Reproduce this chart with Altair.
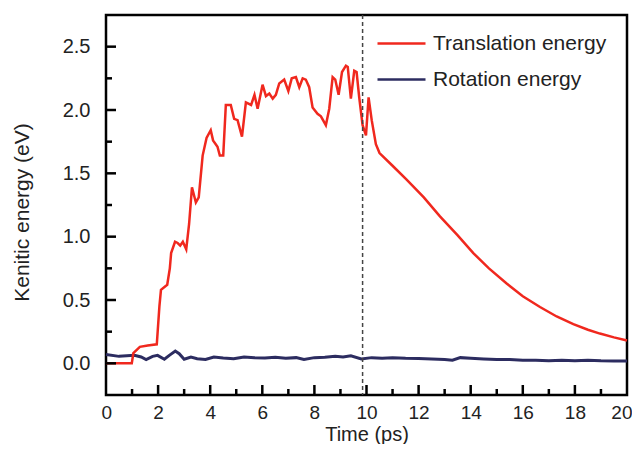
import altair as alt
import pandas as pd

# ---- data ----
trans_t = [0.0, 0.99, 1.05, 1.3, 1.6, 1.95, 2.05, 2.11, 2.35, 2.45, 2.5, 2.65, 2.75, 2.85, 2.95, 3.08,
           3.19, 3.3, 3.45, 3.56, 3.71, 3.86, 4.02, 4.11, 4.28, 4.37, 4.5, 4.6, 4.79, 4.92, 5.05,
           5.22, 5.37, 5.57, 5.7, 5.82, 6.01, 6.14, 6.27, 6.4, 6.52, 6.65, 6.84, 7.0, 7.13, 7.29,
           7.42, 7.55, 7.67, 7.8, 7.93, 8.12, 8.25, 8.44, 8.57, 8.7, 8.8, 8.93, 9.06, 9.21, 9.28,
           9.4, 9.53, 9.62, 9.72, 9.85, 9.98, 10.08, 10.2, 10.36, 10.5, 11.0, 11.54, 12.2, 12.82,
           13.5, 14.1, 14.7, 15.38, 16.0, 16.66, 17.3, 17.94, 18.5, 18.96, 19.5, 20.0]
trans_v = [0.0, 0.0, 0.08, 0.13, 0.14, 0.15, 0.45, 0.58, 0.62, 0.75, 0.87, 0.96, 0.95, 0.93, 0.96, 0.90,
           1.10, 1.39, 1.27, 1.31, 1.64, 1.78, 1.84, 1.76, 1.71, 1.64, 1.64, 2.04, 2.04, 1.93, 1.92,
           1.79, 2.06, 2.04, 2.12, 2.01, 2.20, 2.11, 2.13, 2.09, 2.12, 2.21, 2.24, 2.15, 2.25, 2.26,
           2.18, 2.25, 2.24, 2.18, 2.02, 1.97, 1.95, 1.88, 2.01, 2.26, 2.24, 2.12, 2.30, 2.35, 2.34,
           2.09, 2.31, 2.30, 2.10, 1.88, 1.80, 2.10, 1.92, 1.73, 1.66, 1.56, 1.45, 1.31, 1.16,
           1.01, 0.87, 0.75, 0.63, 0.53, 0.445, 0.37, 0.31, 0.265, 0.235, 0.205, 0.18]

rot_t = [0.0, 0.5, 1.09, 1.35, 1.54, 1.79, 1.98, 2.24, 2.43, 2.66, 2.81, 3.0, 3.26, 3.5, 3.82, 4.14,
         4.5, 4.9, 5.3, 5.7, 6.1, 6.5, 6.9, 7.3, 7.6, 8.0, 8.4, 8.8, 9.1, 9.4, 9.8, 10.2, 10.6,
         11.0, 11.5, 12.0, 12.5, 13.0, 13.3, 13.6, 14.0, 14.5, 15.0, 15.5, 16.0, 16.5, 17.0,
         17.5, 18.0, 18.5, 19.0, 19.5, 20.0]
rot_v = [0.07, 0.055, 0.063, 0.05, 0.03, 0.055, 0.063, 0.032, 0.063, 0.097, 0.076, 0.032, 0.05, 0.037,
         0.03, 0.05, 0.042, 0.037, 0.05, 0.045, 0.042, 0.048, 0.04, 0.045, 0.03, 0.045, 0.048, 0.055,
         0.05, 0.06, 0.035, 0.045, 0.04, 0.045, 0.04, 0.038, 0.035, 0.03, 0.025, 0.045, 0.04, 0.035,
         0.03, 0.03, 0.025, 0.025, 0.02, 0.025, 0.02, 0.025, 0.02, 0.018, 0.018]

series = ["Translation energy", "Rotation energy"]
colors = ["#f0281e", "#2c2c60"]
dash_t = [9.85]
x_major = [0, 2, 4, 6, 8, 10, 12, 14, 16, 18, 20]
x_minor = [1, 3, 5, 7, 9, 11, 13, 15, 17, 19]
y_major = [0.0, 0.5, 1.0, 1.5, 2.0, 2.5]
y_minor = [0.25, 0.75, 1.25, 1.75, 2.25]

df = pd.concat([
    pd.DataFrame({"t": trans_t, "v": trans_v, "s": series[0]}),
    pd.DataFrame({"t": rot_t, "v": rot_v, "s": series[1]}),
])

W, H = 521, 380
xs = alt.Scale(domain=[0, 20], nice=False)
ys = alt.Scale(domain=[-0.25, 2.75], nice=False)
FONT = "Liberation Sans"

x_enc = alt.X("t:Q", scale=xs, axis=alt.Axis(
    values=x_major, title="Time (ps)", labelFontSize=19, labelPadding=8, ticks=False,
    labelFlush=True, labelFlushOffset=5,
    domain=False, grid=False, titleFontSize=20, titleFontWeight="normal",
    titleBaseline="alphabetic", titleY=45, labelColor="#222", titleColor="#222"))
y_enc = alt.Y("v:Q", scale=ys, axis=alt.Axis(
    values=y_major, format=".1f", title="Kenitic energy (eV)", labelFontSize=20,
    labelPadding=16, ticks=False, domain=False, grid=False, titleFontSize=21,
    titleFontWeight="normal", titleAngle=270, titleBaseline="middle", titleX=-84,
    titleY=197, labelColor="#222", titleColor="#222"))
c_enc = alt.Color("s:N", scale=alt.Scale(domain=series, range=colors), legend=alt.Legend(
    title=None, orient="none", legendX=270, legendY=3, symbolType="stroke",
    symbolSize=2304, symbolStrokeWidth=2.5, labelFontSize=21, labelColor="#222",
    labelLimit=400, rowPadding=-19, labelOffset=6))

base = alt.Chart(df).encode(x=x_enc, y=y_enc, color=c_enc, order=alt.Order("t:Q"))
line_tr = base.transform_filter(alt.datum.s == series[0]).mark_line(strokeWidth=2.5)
line_rot = base.transform_filter(alt.datum.s == series[1]).mark_line(strokeWidth=3)

dash = alt.Chart(pd.DataFrame({"t": dash_t})).mark_rule(
    color="#444", strokeDash=[4, 3], strokeWidth=1.5).encode(x=alt.X("t:Q", scale=xs))

xmaj = alt.Chart(pd.DataFrame({"t": x_major[1:-1]})).mark_rule(color="black", strokeWidth=2.5).encode(
    x=alt.X("t:Q", scale=xs), y=alt.value(H), y2=alt.value(H - 10))
xmin = alt.Chart(pd.DataFrame({"t": x_minor})).mark_rule(color="black", strokeWidth=2.5).encode(
    x=alt.X("t:Q", scale=xs), y=alt.value(H), y2=alt.value(H - 6))
ymaj = alt.Chart(pd.DataFrame({"v": y_major})).mark_rule(color="black", strokeWidth=2.5).encode(
    y=alt.Y("v:Q", scale=ys), x=alt.value(0), x2=alt.value(10))
ymin = alt.Chart(pd.DataFrame({"v": y_minor})).mark_rule(color="black", strokeWidth=2.5).encode(
    y=alt.Y("v:Q", scale=ys), x=alt.value(0), x2=alt.value(6))

chart = alt.layer(line_rot, line_tr, dash, xmaj, xmin, ymaj, ymin).properties(
    width=W, height=H, autosize=alt.AutoSizeParams(type="none"),
    padding={"left": 98, "top": 7, "right": 5, "bottom": 49},
).configure(font=FONT, background="white").configure_view(stroke="black", strokeWidth=2.5)

chart.save("out.html", embed_options={"renderer": "svg", "actions": False})
